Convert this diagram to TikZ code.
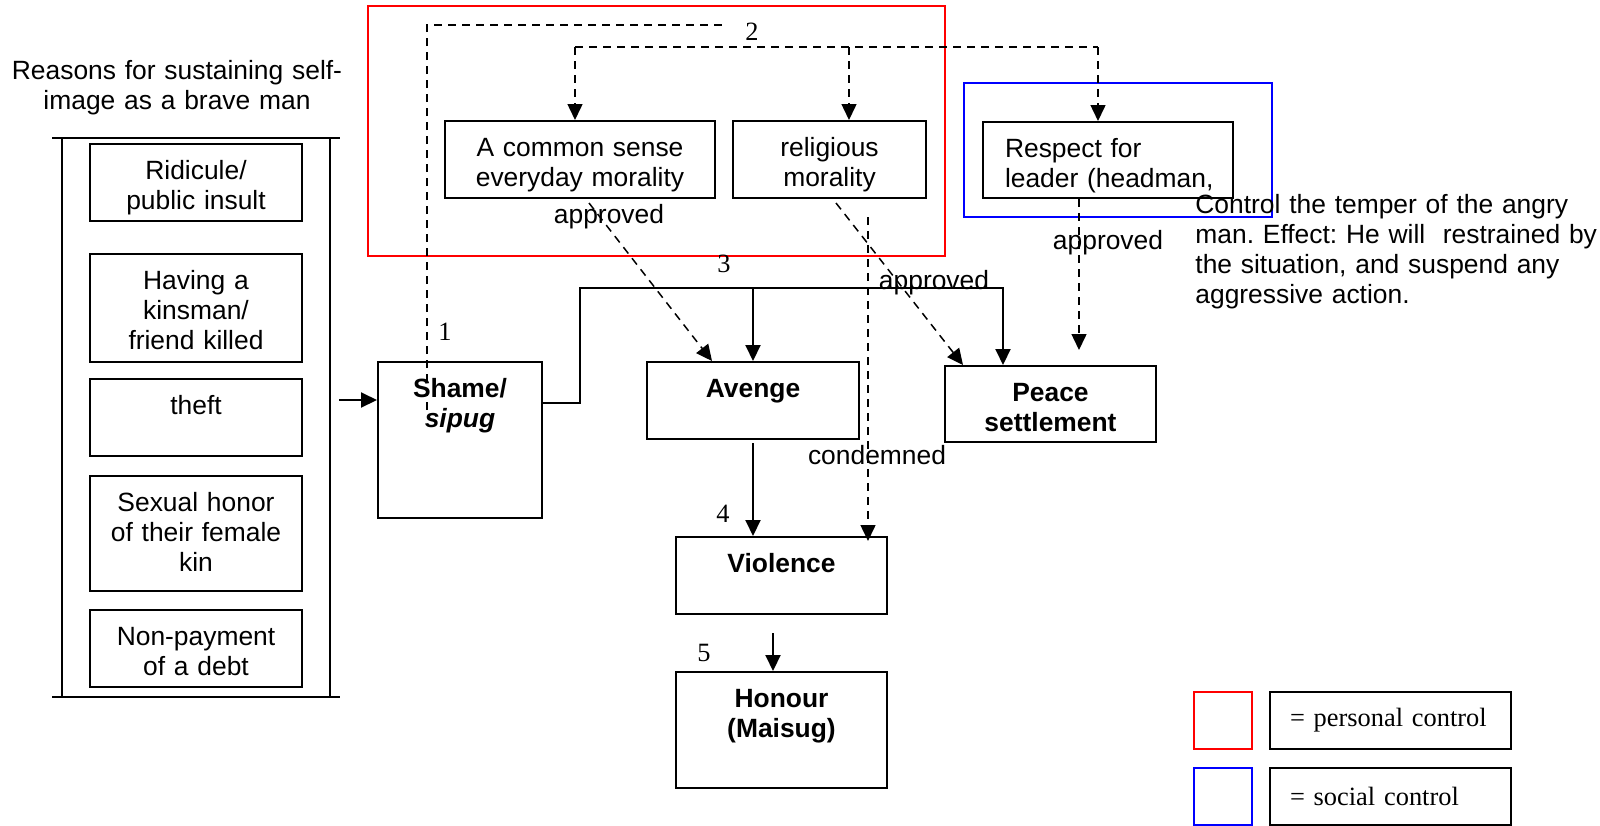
\documentclass[tikz,border=0pt]{standalone}
\usepackage{fontspec}
\setmainfont{Liberation Sans}
\newfontfamily\numfont{Liberation Serif}
\usepackage{tikz}
\usetikzlibrary{arrows.meta, positioning}

\begin{document}
\frenchspacing
\begin{tikzpicture}[x=0.5pt, y=-0.5pt, font=\fontsize{13.2}{15}\selectfont]
        % Setup the styles for the boxes and the arrows
        \tikzset{box style/.style={draw,
                                   line width=1pt,
                                   inner xsep=0pt,
                                   inner ysep=0pt,
                                   align=center,
                                   text height=17.5pt},
                 head style/.style={box style,
                                    font=\fontsize{13.2}{15}\selectfont\bfseries},
                 key style/.style={draw,
                                   line width=1pt,
                                   inner xsep=10pt,
                                   inner ysep=0pt,
                                   text width=100.5pt,
                                   minimum height=28.5pt,
                                   align=left,
                                   font=\fontsize{13.2}{15}\selectfont\numfont},
                 plain text/.style={inner sep=0pt},
                 num style/.style={inner sep=0pt,
                                   font=\fontsize{13.2}{15}\selectfont\numfont},
                 flow/.style={line width=1pt,
                              -{Triangle[length=8pt, width=7.5pt]}},
                 hint/.style={line width=0.75pt,
                              dash pattern=on 4pt off 3pt},
                 hint arrow/.style={hint,
                                    -{Triangle[length=8pt, width=7.5pt]}}}

        \useasboundingbox (0,0) rectangle (1600,825);

        % Draw the frame round the reasons
        \draw[line width=1pt] (52,138) -- (340,138);
        \draw[line width=1pt] (52,697) -- (340,697);
        \draw[line width=1pt] (62,138) -- (62,697);
        \draw[line width=1pt] (330,138) -- (330,697);
        \node[plain text, text width=170pt, align=center, anchor=north,
              text height=17.5pt] at (177,44) (reasons)
              {Reasons for sustaining self-\\image as a brave man};

        % Draw the reasons
        \node[box style, text width=106pt, text depth=21pt] at (196,182.5) (ridicule) {Ridicule/\\public insult};
        \node[box style, text width=106pt, text depth=36.5pt] at (196,308) (kinsman) {Having a\\kinsman/\\friend killed};
        \node[box style, text width=106pt, text depth=21pt] at (196,417.5) (theft) {theft};
        \node[box style, text width=106pt, text depth=40pt] at (196,533.5) (sexual) {Sexual honor\\of their female\\kin};
        \node[box style, text width=106pt, text depth=21pt] at (196,648.5) (debt) {Non-payment\\of a debt};

        % Draw the controls
        \draw[red, line width=1pt] (368,6) rectangle (945,256);
        \draw[blue, line width=1pt] (964,83) rectangle (1272,217);
        \node[box style, text width=135pt, text depth=21pt] at (580,159.5) (common) {A common sense\\everyday morality};
        \node[box style, text width=96.5pt, text depth=21pt] at (829.5,159.5) (religious) {religious\\morality};
        \node[box style, text width=103pt, inner xsep=11pt, align=left, text depth=20.5pt] at (1108,160) (respect) {Respect for\\\mbox{leader (headman,}};
        \node[plain text, text width=210pt, align=left, anchor=north west,
              text height=17.5pt] at (1195,178.5) (control)
              {Control the temper of the angry\\man. Effect: He will~ restrained by\\the situation, and suspend any\\aggressive action.};

        % Draw the stages
        \node[head style, text width=82pt, text depth=60.5pt] at (460,440) (shame) {Shame/\\\textit{sipug}};
        \node[head style, text width=106pt, text depth=21pt] at (753,400.5) (avenge) {Avenge};
        \node[head style, text width=105.5pt, text depth=20.5pt] at (1050.5,404) (peace) {Peace\\settlement};
        \node[head style, text width=105.5pt, text depth=21pt] at (781.5,575.5) (violence) {Violence};
        \node[head style, text width=105.5pt, text depth=40.5pt] at (781.5,730) (honour) {Honour\\(Maisug)};

        % Labels on the connections
        \node[plain text] at (609,217) (approved1) {approved};
        \node[plain text] at (934,283) (approved2) {approved};
        \node[plain text] at (1108,243) (approved3) {approved};
        \node[plain text] at (877,455) (condemned) {condemned};
        \node[num style] at (445,332) (n1) {1};
        \node[num style] at (752,32) (n2) {2};
        \node[num style] at (724,264) (n3) {3};
        \node[num style] at (723,514) (n4) {4};
        \node[num style] at (704,653) (n5) {5};

        % Corners of the connections
        \coordinate (panel) at (339,400);
        \coordinate (c1) at (427,410);
        \coordinate (c1top) at (427,25);
        \coordinate (c2) at (727,25);
        \coordinate (t1) at (575,47);
        \coordinate (t2) at (849,47);
        \coordinate (t3) at (1098,47);
        \coordinate (cd) at (868,217);
        \coordinate (rs) at (1079,350);
        \coordinate (j1) at (580,288);
        \coordinate (j2) at (1003,288);
        \coordinate (j3) at (avenge.north |- j1);
        \coordinate (v5) at (773,633);

        % Connect the boxes
        \draw[flow] (panel) -- (shame.west |- panel);
        \draw[hint] (c1) -- (c1top) -- (c2);
        \draw[hint] (t1) -- (t3);
        \draw[hint arrow] (t1) -- (t1 |- common.north);
        \draw[hint arrow] (t2) -- (t2 |- religious.north);
        \draw[hint arrow] (t3) -- (t3 |- respect.north);
        \draw[hint arrow] ([xshift=4.5pt, yshift=-2pt]common.south) -- ([xshift=-20.5pt]avenge.north);
        \draw[hint arrow] ([xshift=3.25pt, yshift=-2pt]religious.south) -- ([xshift=-43.75pt]peace.north);
        \draw[hint arrow] (cd) -- ([xshift=43.25pt, yshift=-2.5pt]violence.north);
        \draw[hint arrow] ([xshift=-14.5pt]respect.south) -- (rs);
        \draw[flow] ([yshift=18.5pt]shame.east) -| (j1) -- (j2) -- (j2 |- peace.north);
        \draw[flow] (j3) -- (avenge.north);
        \draw[flow] ([yshift=-1.5pt]avenge.south) -- (avenge.south |- violence.north);
        \draw[flow] (v5) -- (v5 |- honour.north);

        % Draw the key
        \node[draw=red, line width=1pt, minimum width=29pt, minimum height=28.5pt, inner sep=0pt] at (1223,720.5) (keyred) {};
        \node[key style] at (1390.5,720.5) (keyredtext) {= personal control};
        \node[draw=blue, line width=1pt, minimum width=29pt, minimum height=28.5pt, inner sep=0pt] at (1223,796.5) (keyblue) {};
        \node[key style] at (1390.5,796.5) (keybluetext) {= social control};
\end{tikzpicture}
\end{document}
